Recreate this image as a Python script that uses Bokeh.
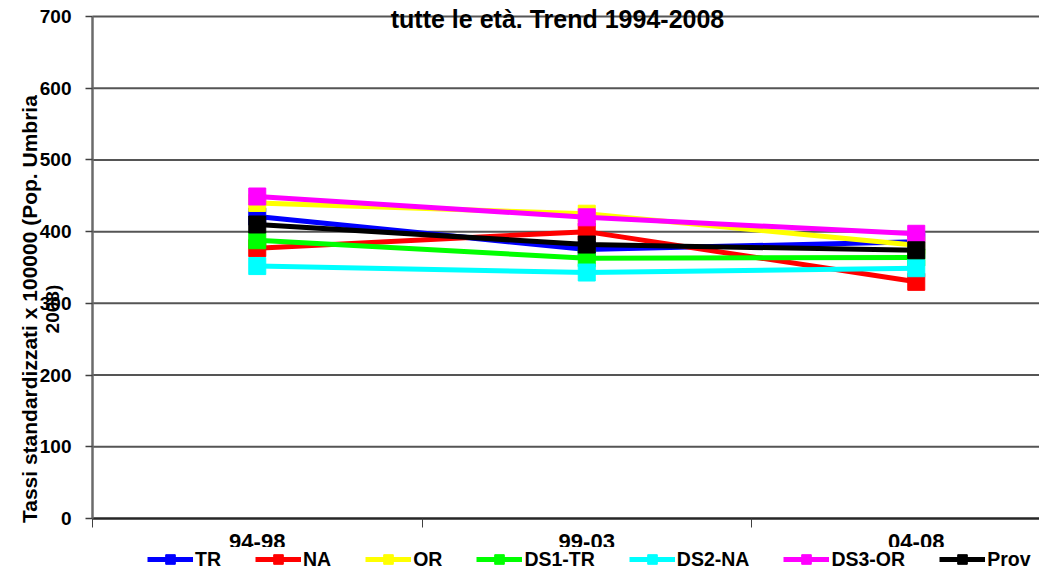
from math import pi
from bokeh.plotting import figure
from bokeh.models import Range1d, FixedTicker, Label, Legend, LegendItem
from bokeh.embed import file_html
from bokeh.resources import INLINE

categories = ["94-98", "99-03", "04-08"]
series_names = ["TR", "NA", "OR", "DS1-TR", "DS2-NA", "DS3-OR", "Prov"]
series_colors = ["#0000FF", "#FF0000", "#FFFF00", "#00FF00", "#00FFFF", "#FF00FF", "#000000"]
TR = [421, 375, 386]
NA = [377, 400, 330]
OR = [440, 425, 381]
DS1_TR = [388, 363, 364]
DS2_NA = [352, 343, 349]
DS3_OR = [449, 420, 397]
Prov = [410, 382, 374]
series_values = [TR, NA, OR, DS1_TR, DS2_NA, DS3_OR, Prov]
y_ticks = [0, 100, 200, 300, 400, 500, 600, 700]
title_text = "tutte le età. Trend 1994-2008"
ylabel_1 = "Tassi standardizzati x 100000 (Pop. Umbria"
ylabel_2 = "2008)"

FONT = "Liberation Sans"
n_cat = len(categories)
xs = [i + 0.5 for i in range(n_cat)]

W, H = 1039, 569
CAT_PX = 329.5          # pixels per category
PX_PER_UNIT = 502 / 700  # pixels per y unit
X0_PX, Y0_PX = 92, 518   # pixel position of the axes origin

p = figure(width=W, height=H, output_backend="svg", toolbar_location=None,
           x_range=Range1d(-X0_PX / CAT_PX, (W - X0_PX) / CAT_PX),
           y_range=Range1d(-(H - Y0_PX) / PX_PER_UNIT, 700 + 16 / PX_PER_UNIT))
p.min_border = 0
p.min_border_left = 0
p.min_border_right = 0
p.min_border_top = 0
p.min_border_bottom = 0
p.outline_line_color = None
p.background_fill_color = "white"
p.border_fill_color = "white"
p.xgrid.visible = False
p.ygrid.visible = False

# gridlines (drawn through the data scales)
p.segment(x0=[0] * (len(y_ticks) - 1), y0=y_ticks[1:], x1=[n_cat] * (len(y_ticks) - 1),
          y1=y_ticks[1:], line_color="#555555", line_width=2)

# axes at the origin
p.xaxis.fixed_location = 0
p.xaxis.bounds = (0, n_cat)
p.xaxis.ticker = FixedTicker(ticks=xs, minor_ticks=list(range(n_cat + 1)))
p.xaxis.major_label_overrides = {x: c for x, c in zip(xs, categories)}
p.xaxis.major_tick_out = 0
p.xaxis.major_tick_in = 0
p.xaxis.minor_tick_out = 9
p.xaxis.minor_tick_in = 0
p.xaxis.minor_tick_line_color = "#404040"
p.xaxis.minor_tick_line_width = 1
p.xaxis.major_label_standoff = 6
p.xaxis.axis_line_color = "#262626"
p.xaxis.axis_line_width = 2.5
p.xaxis.major_label_text_font = FONT
p.xaxis.major_label_text_font_style = "bold"
p.xaxis.major_label_text_font_size = "22px"
p.xaxis.major_label_text_color = "black"

p.yaxis.fixed_location = 0
p.yaxis.bounds = (0, 700)
p.yaxis.ticker = FixedTicker(ticks=y_ticks, minor_ticks=[])
p.yaxis.major_tick_out = 7
p.yaxis.major_tick_in = 0
p.yaxis.major_tick_line_color = "#404040"
p.yaxis.major_tick_line_width = 1.5
p.yaxis.major_label_standoff = 14
p.yaxis.axis_line_color = "#6b6b6b"
p.yaxis.axis_line_width = 2.5
p.yaxis.major_label_text_font = FONT
p.yaxis.major_label_text_font_style = "bold"
p.yaxis.major_label_text_font_size = "19px"
p.yaxis.major_label_text_color = "black"

items = []
for name, color, vals in zip(series_names, series_colors, series_values):
    ln = p.line(xs, vals, line_color=color, line_width=5)
    sc = p.scatter(xs, vals, marker="square", size=17, fill_color=color, line_color=color)
    items.append(LegendItem(label=name, renderers=[ln, sc]))

legend = Legend(items=items, orientation="horizontal", location=(147, -2),
                glyph_width=46, glyph_height=24, label_height=24, label_standoff=2,
                spacing=34, padding=0, margin=0, border_line_color=None,
                background_fill_color="white", background_fill_alpha=1.0,
                label_text_font=FONT, label_text_font_style="bold",
                label_text_font_size="19.5px", label_text_baseline="middle",
                label_text_color="black")
p.add_layout(legend, "center")

p.add_layout(Label(x=(557 - X0_PX) / CAT_PX, y=697, text=title_text, text_align="center",
                   text_baseline="middle", text_font=FONT, text_font_style="bold",
                   text_font_size="25px", text_color="black"))
p.add_layout(Label(x=(29 - X0_PX) / CAT_PX, y=292, text=ylabel_1, angle=pi / 2,
                   text_align="center", text_baseline="middle", text_font=FONT,
                   text_font_style="bold", text_font_size="21px", text_color="black"))
p.add_layout(Label(x=(52 - X0_PX) / CAT_PX, y=292, text=ylabel_2, angle=pi / 2,
                   text_align="center", text_baseline="middle", text_font=FONT,
                   text_font_style="bold", text_font_size="19px", text_color="black"))

open("out.html", "w").write(file_html(p, INLINE))
